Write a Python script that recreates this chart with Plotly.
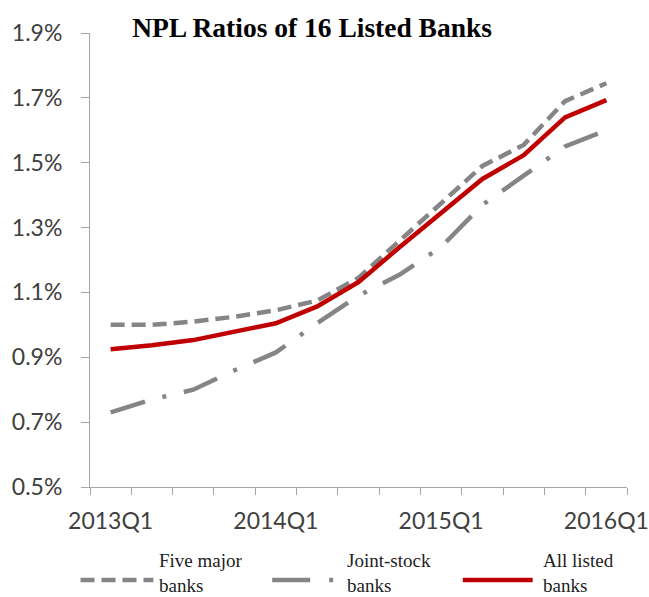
import plotly.graph_objects as go

quarters = ["2013Q1", "2013Q2", "2013Q3", "2013Q4",
            "2014Q1", "2014Q2", "2014Q3", "2014Q4",
            "2015Q1", "2015Q2", "2015Q3", "2015Q4",
            "2016Q1"]
five_major = [1.00, 1.00, 1.01, 1.025, 1.045, 1.075, 1.145, 1.26, 1.375, 1.49, 1.555, 1.69, 1.745]
joint_stock = [0.73, 0.77, 0.80, 0.86, 0.915, 1.005, 1.09, 1.155, 1.24, 1.37, 1.46, 1.55, 1.60]
all_listed = [0.925, 0.937, 0.953, 0.978, 1.005, 1.057, 1.132, 1.24, 1.344, 1.45, 1.523, 1.64, 1.693]
y_ticks = [0.5, 0.7, 0.9, 1.1, 1.3, 1.5, 1.7, 1.9]
label_quarters = ["2013Q1", "2014Q1", "2015Q1", "2016Q1"]

names = ["Five major<br>banks", "Joint-stock<br>banks", "All listed<br>banks"]

W, H = 649, 597
ML, MR, MT, MB = 89.5, 21.5, 33, 110
PW, PH = W - ML - MR, H - MT - MB

def px(x):
    return (x - ML) / PW

def py(y):
    return (H - MB - y) / PH

GREY = "#858585"
RED = "#c00000"
DASH5 = "14px,7px"
DASHJ = "36px,18px,4px,18px"

fig = go.Figure()
fig.add_trace(go.Scatter(x=quarters, y=five_major, mode="lines", name=names[0],
                         line=dict(color=GREY, width=4.5, dash=DASH5)))
fig.add_trace(go.Scatter(x=quarters, y=joint_stock, mode="lines", name=names[1],
                         line=dict(color=GREY, width=4.5, dash=DASHJ)))
fig.add_trace(go.Scatter(x=quarters, y=all_listed, mode="lines", name=names[2],
                         line=dict(color=RED, width=4.5)))

# manual legend
leg_y = py(580)
shapes = [
    dict(type="line", xref="paper", yref="paper", x0=px(80), x1=px(153), y0=leg_y, y1=leg_y,
         line=dict(color=GREY, width=4.5, dash=DASH5)),
    dict(type="line", xref="paper", yref="paper", x0=px(272), x1=px(334), y0=leg_y, y1=leg_y,
         line=dict(color=GREY, width=4.5, dash="38px,19px,4px,60px")),
    dict(type="line", xref="paper", yref="paper", x0=px(463), x1=px(533), y0=leg_y, y1=leg_y,
         line=dict(color=RED, width=4.5)),
]
annotations = []
for name, x0 in zip(names, [158, 346, 542]):
    annotations.append(dict(text=name, xref="paper", yref="paper", x=px(x0), y=py(596.5),
                            xanchor="left", yanchor="bottom", align="left", showarrow=False,
                            borderpad=0,
                            font=dict(family="Liberation Serif", size=19, color="#222222")))

fig.update_layout(
    width=W, height=H,
    margin=dict(l=ML, r=MR, t=MT, b=MB, autoexpand=False),
    paper_bgcolor="white", plot_bgcolor="white",
    showlegend=False,
    title=dict(text="<b>NPL Ratios of 16 Listed Banks</b>", x=px(312), xref="paper",
               xanchor="center", y=1 - 27 / H, yanchor="middle",
               font=dict(family="Liberation Serif", size=27.5, color="black")),
    shapes=shapes,
    annotations=annotations,
)
fig.update_xaxes(
    type="category", categoryorder="array", categoryarray=quarters,
    tickmode="array", tickvals=quarters,
    ticktext=[q if q in label_quarters else "" for q in quarters],
    tickson="boundaries", ticks="outside", ticklen=7, tickcolor="#a6a6a6",
    showline=True, linecolor="#a6a6a6", linewidth=1, showgrid=False, zeroline=False,
    tickfont=dict(family="Lato", size=23, color="#404040"),
    tickangle=0, automargin=False, ticklabelstandoff=13,
    range=[-0.5, len(quarters) - 0.5],
)
fig.update_yaxes(
    range=[0.5, 1.9], tickmode="array", tickvals=y_ticks,
    ticktext=[f"{v:.1f}%" for v in y_ticks],
    ticks="outside", ticklen=8, tickcolor="#a6a6a6",
    showline=True, linecolor="#a6a6a6", linewidth=1, showgrid=False, zeroline=False,
    tickfont=dict(family="Lato", size=23, color="#404040"),
    ticklabelstandoff=14, automargin=False,
)

fig.write_html("out.html")
